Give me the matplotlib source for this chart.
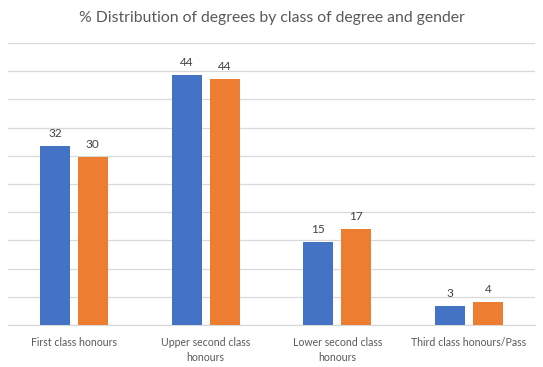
import matplotlib
matplotlib.use("Agg")
import matplotlib.pyplot as plt
import numpy as np

plt.rcParams['font.family'] = ['Lato', 'DejaVu Sans']

categories = ["First class honours", "Upper second class\nhonours",
              "Lower second class\nhonours", "Third class honours/Pass"]
series_a = [31.7, 44.3, 14.7, 3.4]
series_b = [29.8, 43.6, 17.0, 4.1]
colors = ["#4472C4", "#ED7D31"]

fig = plt.figure(figsize=(5.43, 3.67), dpi=100)
ax = fig.add_axes([0.0147, 0.1144, 0.9703, 0.7686])

x = np.arange(len(categories))
w = 0.228
off = 0.144
b1 = ax.bar(x - off, series_a, w, color=colors[0], zorder=3)
b2 = ax.bar(x + off, series_b, w, color=colors[1], zorder=3)
for bars in (b1, b2):
    ax.bar_label(bars, fmt="%.0f", padding=5, fontsize=8.5, color="#404040")

ax.set_xlim(-0.5, 3.5)
ax.set_ylim(0, 50)
ax.set_yticks(np.arange(0, 51, 5))
ax.yaxis.grid(True, color="#D9D9D9", linewidth=0.9, zorder=0)
ax.tick_params(axis='y', left=False, labelleft=False)
ax.tick_params(axis='x', bottom=False, labelsize=7.6, labelcolor="#595959", pad=5)
ax.set_xticks(x)
ax.set_xticklabels(categories, linespacing=1.5)
for s in ["top", "right", "left"]:
    ax.spines[s].set_visible(False)
ax.spines["bottom"].set_color("#D9D9D9")
ax.spines["bottom"].set_linewidth(0.9)

fig.text(0.5, 0.95, "% Distribution of degrees by class of degree and gender",
         ha="center", va="center", fontsize=11.3, color="#595959")

fig.savefig("out.png", dpi=100)
